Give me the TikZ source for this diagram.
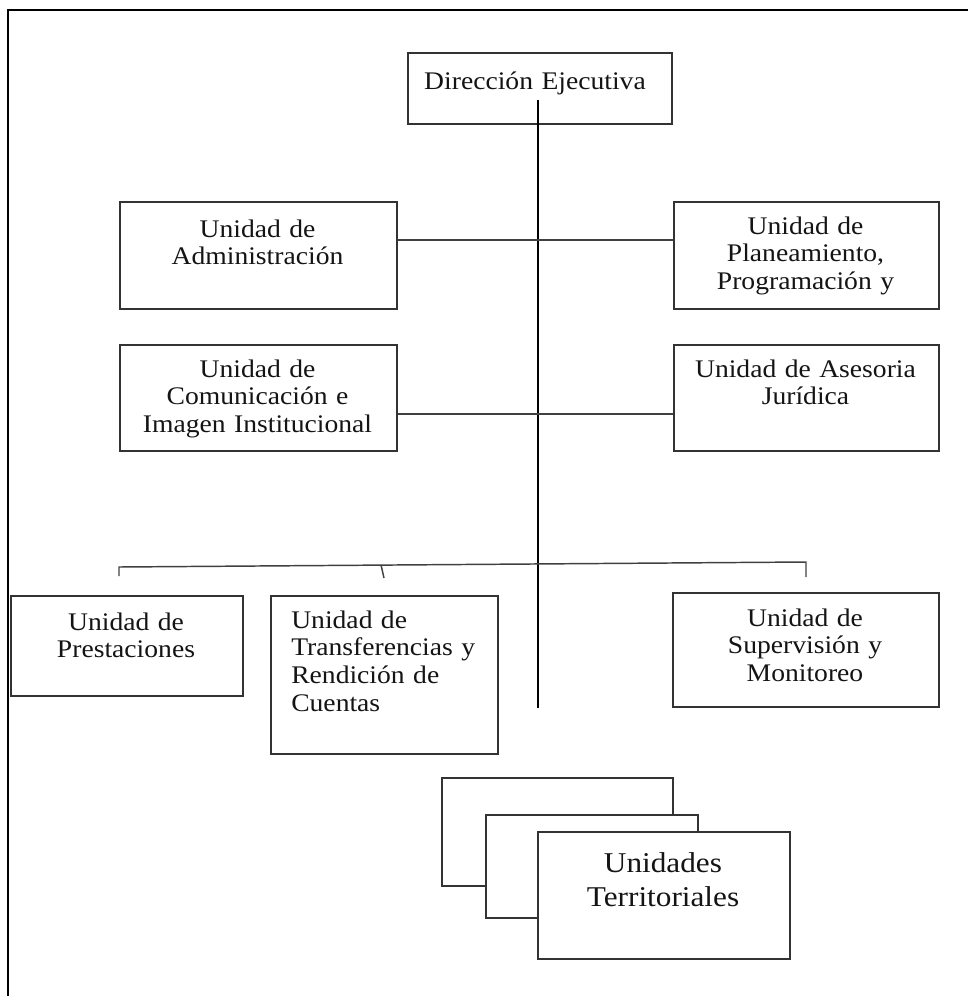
\documentclass[tikz,border=0pt]{standalone}
\usepackage{fontspec}
\setmainfont{Liberation Serif}[FakeStretch=1.09]
\begin{document}
\begin{tikzpicture}[x=0.75pt,y=-0.75pt,
  box/.style={draw=black!80, line width=1.4pt, fill=white, inner sep=0pt, anchor=north west},
  conn/.style={draw=black!75, line width=1.1pt},
  spine/.style={draw=black, line width=0.8pt},
  frame/.style={draw=black, line width=1.1pt},
  txt/.style={text=black!92, inner sep=0pt, anchor=base, align=center, text width=195pt,
    font=\fontsize{19}{20.8}\selectfont},
  bigtxt/.style={text=black!92, inner sep=0pt, anchor=base, align=center, text width=180pt,
    font=\fontsize{21.5}{26.2}\selectfont}]
\useasboundingbox (0,0) rectangle (968,996);
% frame
\coordinate (fTL) at (8,10);
\coordinate (fTR) at (968,10);
\coordinate (fBL) at (8,996);
\draw[frame] (fBL) -- (fTL) -- (fTR);
% boxes
\node[box, minimum width=198pt, minimum height=53.25pt] (dir) at (407,52) {};
\node[box, minimum width=207.75pt, minimum height=80.25pt] (adm) at (119,201) {};
\node[box, minimum width=198.75pt, minimum height=80.25pt] (pla) at (673,201) {};
\node[box, minimum width=207.75pt, minimum height=79.5pt] (com) at (119,344) {};
\node[box, minimum width=198.75pt, minimum height=79.5pt] (ase) at (673,344) {};
\node[box, minimum width=174pt, minimum height=75pt] (pre) at (10,595) {};
\node[box, minimum width=170.25pt, minimum height=118.5pt] (tra) at (270,595) {};
\node[box, minimum width=199.5pt, minimum height=85.5pt] (sup) at (672,592) {};
\node[box, minimum width=173.25pt, minimum height=81pt] (ut1) at (441,777) {};
\node[box, minimum width=159pt, minimum height=77.25pt] (ut2) at (485,814) {};
\node[box, minimum width=189pt, minimum height=95.25pt] (ut3) at (537,831) {};
% texts
\node[txt] (tdir) at (535,89) {Dirección Ejecutiva};
\node[txt] (tadm) at (257.5,237) {Unidad de\\Administración};
\node[txt] (tpla) at (805.5,234) {Unidad de\\Planeamiento,\\Programación y};
\node[txt] (tcom) at (257.5,377) {Unidad de\\Comunicación e\\Imagen Institucional};
\node[txt] (tase) at (805.5,377) {Unidad de Asesoria\\Jurídica};
\node[txt] (tpre) at (126,630) {Unidad de\\Prestaciones};
\node[txt, anchor=base west, align=left, text width=150pt] (ttra) at (291,628) {Unidad de\\Transferencias y\\Rendición de\\Cuentas};
\node[txt] (tsup) at (805,626) {Unidad de\\Supervisión y\\Monitoreo};
\node[bigtxt] (tut) at (663,872) {Unidades\\Territoriales};
% connectors
\coordinate (vtop) at (538,100);
\coordinate (vbot) at (538,708);
\draw[spine] (vtop) -- (vbot);
\coordinate (h1) at (538,240);
\coordinate (h2) at (538,414);
\draw[conn] (adm.east |- h1) -- (pla.west |- h1);
\draw[conn] (com.east |- h2) -- (ase.west |- h2);
\coordinate (b1) at (119,567);
\coordinate (b1e) at (119,576);
\coordinate (b2) at (381,565);
\coordinate (b2e) at (384,578);
\coordinate (b3) at (806,562);
\coordinate (b3e) at (806,577);
\draw[conn] (b1e) -- (b1) -- (b3) -- (b3e);
\draw[conn] (b2) -- (b2e);
\end{tikzpicture}
\end{document}
